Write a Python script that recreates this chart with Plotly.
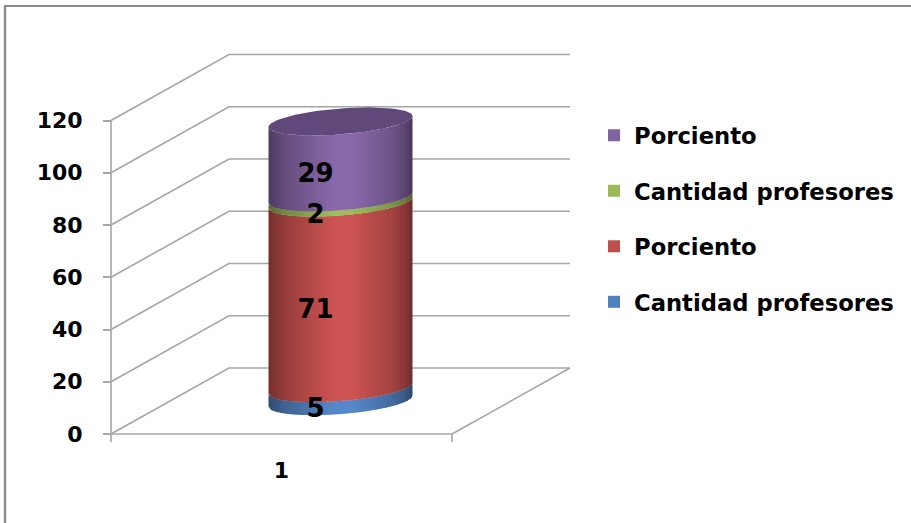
import numpy as np
import plotly.graph_objects as go

# ---- data ----
categories = ["1"]
series_names = ["Cantidad profesores", "Porciento", "Cantidad profesores", "Porciento"]
serie_blue = [5]
serie_red = [71]
serie_green = [2]
serie_purple = [29]
tick_values = [0, 20, 40, 60, 80, 100, 120]

# ---- styles ----
W, H = 911, 523
FONT = "DejaVu Sans"
BOLD = 700
GRID = "#a6a6a6"
center_colors = ["#5688c9", "#cd5452", "#9dbd5a", "#8a69aa"]
cap_color = "#60497a"
legend_colors = ["#4f81bd", "#c0504d", "#9bbb59", "#8064a2"]

# projection set-up: category slot spans 0.5..1.5 across 341 px; value unit = 2.6125 px
PX_X, PX_Y = 341.0, 2.6125
ORIGIN_X, ORIGIN_Y = 111.0, 434.0
x_range = [0.5 - ORIGIN_X / PX_X, 0.5 + (W - ORIGIN_X) / PX_X]
y_range = [(ORIGIN_Y - H) / PX_Y, ORIGIN_Y / PX_Y]
DEPTH_X = 118.0 / PX_X
DEPTH_Y = 66.0 / PX_Y

CAT_X = 1.0
cx = CAT_X + DEPTH_X / 2
rx = 72.0 / PX_X
skew = 5.5 / PX_Y
semi = 13.0 / PX_Y
base_y = DEPTH_Y / 2

fig = go.Figure()

# walls / floor
gx, gy = [], []
for v in tick_values:
    gx += [0.5, 0.5 + DEPTH_X, 1.5 + DEPTH_X, None]
    gy += [v, v + DEPTH_Y, v + DEPTH_Y, None]
gx += [0.5, 0.5, None, 0.5, 1.5, None, 1.5, 1.5 + DEPTH_X, None, 1.5, 1.5, None]
gy += [tick_values[0], tick_values[-1], None, 0, 0, None, 0, DEPTH_Y, None, 0, -3.2, None]
gx += [0.5, 0.5, None]
gy += [0, -3.2, None]
fig.add_trace(go.Scatter(x=gx, y=gy, mode="lines", line=dict(color=GRID, width=1.6),
                         showlegend=False, hoverinfo="skip"))


def shade(hex_color, f):
    k = float(np.interp(f, [0, .04, .12, .45, .58, .85, .95, 1],
                        [.56, .62, .74, 1, 1, .80, .66, .52]))
    r, g, b = [int(hex_color[i:i + 2], 16) for i in (1, 3, 5)]
    return f"rgb({int(r * k)},{int(g * k)},{int(b * k)})"


def front(u):
    return skew * u - semi * np.sqrt(np.clip(1 - u * u, 0, 1))


values = [serie_blue[0], serie_red[0], serie_green[0], serie_purple[0]]
N = 48
edges = np.linspace(-1, 1, N + 1)
bottom = 0.0
for val, col in zip(values, center_colors):
    for i in range(N):
        us = np.linspace(edges[i], min(edges[i + 1] + 0.02, 1), 5)
        xs = cx + rx * us
        low = base_y + bottom + front(us)
        high = base_y + bottom + val + front(us)
        fig.add_trace(go.Scatter(
            x=np.r_[xs, xs[::-1], xs[0]], y=np.r_[low, high[::-1], low[0]],
            mode="lines", fill="toself", fillcolor=shade(col, (i + .5) / N),
            line=dict(width=0), showlegend=False, hoverinfo="skip"))
    bottom += val

# top cap
t = np.linspace(0, 2 * np.pi, 121)
fig.add_trace(go.Scatter(
    x=cx + rx * np.cos(t),
    y=base_y + bottom + skew * np.cos(t) + semi * np.sin(t),
    mode="lines", fill="toself", fillcolor=cap_color, line=dict(width=0, color=cap_color),
    showlegend=False, hoverinfo="skip"))

# data labels
bottom = 0.0
lx, ly = [], []
for val in values:
    lx.append(cx - 25.0 / PX_X)
    ly.append(base_y + bottom + val / 2 - semi - 3.5 / PX_Y)
    bottom += val
fig.add_trace(go.Scatter(
    x=lx, y=ly, mode="text", text=[str(v) for v in values], textposition="middle center",
    textfont=dict(family=FONT, size=26, color="black", weight=BOLD),
    showlegend=False, hoverinfo="skip"))

# legend entries
for i, (name, col) in enumerate(zip(series_names, legend_colors)):
    fig.add_trace(go.Scatter(
        x=[None], y=[None], mode="markers", name=name, legendgroup=f"g{i}",
        legendrank=len(series_names) - i,
        marker=dict(symbol="square", size=12, color=col)))

fig.update_layout(
    width=W, height=H, autosize=False,
    margin=dict(l=0, r=0, t=0, b=0),
    paper_bgcolor="white", plot_bgcolor="white",
    xaxis=dict(range=x_range, domain=[0, 1], anchor="free", position=(H - ORIGIN_Y) / H,
               tickmode="array", tickvals=[CAT_X], ticktext=categories,
               showgrid=False, zeroline=False, showline=False, ticks="", ticklabelstandoff=21,
               tickfont=dict(family=FONT, size=22, color="black", weight=BOLD)),
    yaxis=dict(range=y_range, domain=[0, 1], anchor="free", position=ORIGIN_X / W,
               tickmode="array", tickvals=tick_values,
               showgrid=False, zeroline=False, showline=False,
               ticks="outside", ticklen=8, tickwidth=1.6, tickcolor=GRID, ticklabelstandoff=16,
               tickfont=dict(family=FONT, size=22, color="black", weight=BOLD)),
    legend=dict(x=594 / W, xanchor="left", y=1 - 114 / H, yanchor="top",
                traceorder="grouped", tracegroupgap=23,
                font=dict(family=FONT, size=22.7, color="black", weight=BOLD),
                bgcolor="rgba(0,0,0,0)", itemclick=False, itemdoubleclick=False),
    shapes=[
        dict(type="line", xref="paper", yref="paper", x0=4 / W, x1=1, y0=1 - 6 / H, y1=1 - 6 / H,
             line=dict(color="#8c8c8c", width=2)),
        dict(type="line", xref="paper", yref="paper", x0=5 / W, x1=5 / W, y0=0, y1=1 - 6 / H,
             line=dict(color="#8c8c8c", width=2.5)),
    ],
    showlegend=True,
)
fig.write_html("out.html", config=dict(displayModeBar=False),
               post_script="document.body.style.margin='0';document.documentElement.style.overflow='hidden';")
